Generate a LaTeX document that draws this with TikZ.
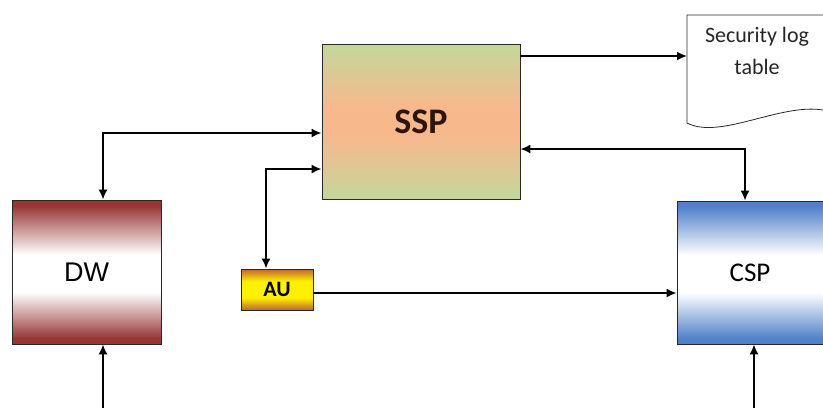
\documentclass[tikz,border=0pt]{standalone}
\usepackage{fontspec}
\setmainfont{Carlito}
\newfontfamily\arialf{Liberation Sans}
\usetikzlibrary{arrows.meta}
\definecolor{sspgreen}{RGB}{196,214,155}
\definecolor{ssporange}{RGB}{247,185,140}
\definecolor{dwred}{RGB}{150,55,53}
\definecolor{cspblue}{RGB}{80,129,200}
\definecolor{aubrown}{RGB}{190,100,50}
\definecolor{auyellow}{RGB}{255,240,0}
\definecolor{edge}{RGB}{40,40,40}
\pgfdeclareverticalshading{sspshade}{100bp}{color(0bp)=(sspgreen); color(26bp)=(sspgreen); color(45bp)=(ssporange); color(55bp)=(ssporange); color(74bp)=(sspgreen); color(100bp)=(sspgreen)}
\pgfdeclareverticalshading{dwshade}{100bp}{color(0bp)=(dwred); color(27bp)=(dwred); color(43bp)=(white); color(56bp)=(white); color(73bp)=(dwred); color(100bp)=(dwred)}
\pgfdeclareverticalshading{cspshade}{100bp}{color(0bp)=(cspblue); color(27bp)=(cspblue); color(43bp)=(white); color(56bp)=(white); color(73bp)=(cspblue); color(100bp)=(cspblue)}
\pgfdeclareverticalshading{aushade}{100bp}{color(0bp)=(aubrown); color(25bp)=(aubrown); color(40bp)=(auyellow); color(60bp)=(auyellow); color(75bp)=(aubrown); color(100bp)=(aubrown)}
\tikzset{
  box/.style={draw=edge, line width=0.8pt, inner sep=0pt},
  conn/.style={line width=1.8pt, draw=black},
  tip/.style={-{Latex[length=10pt,width=9pt]}},
  tips/.style={{Latex[length=10pt,width=9pt]}-{Latex[length=10pt,width=9pt]}}
}
\begin{document}
\begin{tikzpicture}[x=1pt,y=1pt]
\useasboundingbox (0,0) rectangle (823,-408);
% boxes
\node[box, minimum width=198pt, minimum height=155pt, shading=sspshade,
  font=\fontsize{36}{40}\selectfont\bfseries, text={rgb,255:red,45;green,20;blue,15}] (SSP) at (421,-121.5) {SSP};
\node[box, minimum width=149pt, minimum height=144pt, shading=dwshade,
  font=\arialf\fontsize{27}{30}\selectfont] (DW) at (86.5,-272) {DW};
\node[box, minimum width=72pt, minimum height=41pt, shading=aushade,
  font=\fontsize{22}{24}\selectfont\bfseries] (AU) at (277,-289.5) {AU};
\node[box, minimum width=146pt, minimum height=143pt, shading=cspshade,
  font=\fontsize{27}{32}\selectfont] (CSP) at (750,-272.5) {CSP};
% document shape
\fill[white] (687,-15) -- (823,-15) -- (823,-110)
  .. controls (780,-103) and (720,-140) .. (687,-123) -- cycle;
\draw[draw=edge, line width=0.8pt] (823,-15) -- (687,-15) -- (687,-123)
  .. controls (720,-140) and (780,-103) .. (823,-110);
\node[align=center, anchor=north, inner sep=0pt,
  font=\fontsize{22}{32}\selectfont, text=black!85] (LOG) at (757,-27) {Security log\\table};
% helper coordinates
\coordinate (c1) at (103,-133);
\coordinate (c2) at (266,-169);
\coordinate (c3) at (745,-149);
\coordinate (c4) at (687,-56);
\coordinate (c5) at (0,-293);
\coordinate (d0) at (103,-408);
\coordinate (e0) at (754,-408);
% connectors
\draw[conn, tips] (DW.north -| c1) |- (SSP.west |- c1);
\draw[conn, tips] (AU.north -| c2) |- (SSP.west |- c2);
\draw[conn, tips] (SSP.east |- c3) -| (CSP.north -| c3);
\draw[conn, tip] (SSP.east |- c4) -- (c4);
\draw[conn, tip] (AU.east |- c5) -- (CSP.west |- c5);
\draw[conn, tip] (d0) -- (DW.south -| d0);
\draw[conn, tip] (e0) -- (CSP.south -| e0);
\end{tikzpicture}
\end{document}
